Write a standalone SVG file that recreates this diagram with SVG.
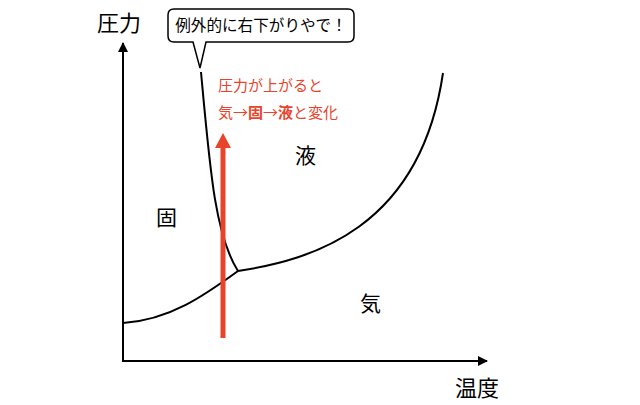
<svg xmlns="http://www.w3.org/2000/svg" width="640" height="405" viewBox="0 0 640 405">
<style>
.t{font-family:"Noto Sans CJK JP","Noto Sans",sans-serif;fill:#000}
.r{font-family:"Noto Sans CJK JP","Noto Sans",sans-serif;fill:#e8432b;font-size:15px}
.c{fill:none;stroke:#000;stroke-width:2}
</style>
<defs>
<marker id="ah" markerWidth="10" markerHeight="10" refX="9" refY="5" orient="auto" markerUnits="userSpaceOnUse">
<path d="M0,0 L10,5 L0,10 Z" fill="#000"/>
</marker>
</defs>
<rect width="640" height="405" fill="#fff"/>
<g id="connectors">
<line x1="123" y1="362" x2="123" y2="43" class="c" marker-end="url(#ah)"/>
<line x1="122" y1="361" x2="487" y2="361" class="c" marker-end="url(#ah)"/>
<path class="c" d="M123,323 C170,320 205,295 238,271"/>
<path class="c" d="M201,72 C210,170 215,235 238,271"/>
<path class="c" d="M238,271 C310,260 420,230 443,73"/>
<line x1="223" y1="338" x2="223" y2="146" stroke="#e8432b" stroke-width="5"/>
<path d="M215,148 L223,133 L231,148 Z" fill="#e8432b"/>
</g>
<g id="bubble">
<path d="M174,9 H348 Q354,9 354,15 V36 Q354,42 348,42 H206 L200,68 L193,42 H174 Q168,42 168,36 V15 Q168,9 174,9 Z" fill="#fff" stroke="#000" stroke-width="1.5"/>
<text x="261" y="31" class="t" font-size="15.6" text-anchor="middle">例外的に右下がりやで！</text>
</g>
<g id="labels">
<text x="97" y="31" class="t" font-size="22">圧力</text>
<text x="455" y="396" class="t" font-size="22">温度</text>
<text x="156" y="225" class="t" font-size="21">固</text>
<text x="295" y="163" class="t" font-size="21">液</text>
<text x="360" y="311" class="t" font-size="21">気</text>
<text x="218" y="91" class="r">圧力が上がると</text>
<text x="218" y="118" class="r">気→<tspan font-weight="bold">固</tspan>→<tspan font-weight="bold">液</tspan>と変化</text>
</g>
</svg>
